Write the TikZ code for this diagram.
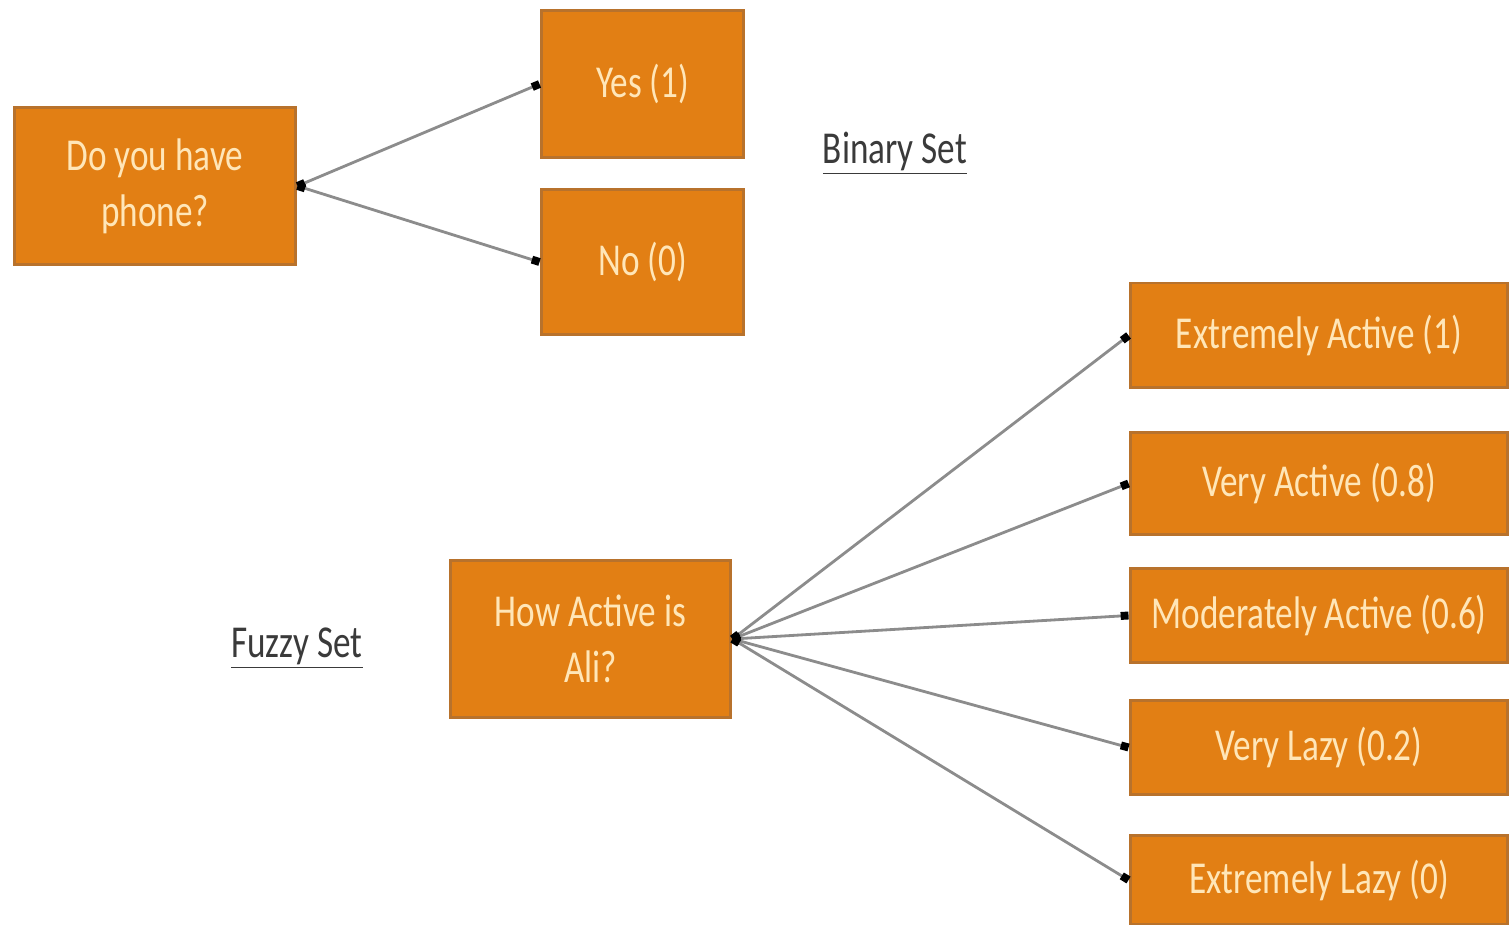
\documentclass[tikz,border=0pt]{standalone}
\usepackage{fontspec}
\setmainfont[FakeStretch=0.77]{Carlito}
\usetikzlibrary{arrows.meta}
\definecolor{boxfill}{HTML}{E27F14}
\definecolor{boxedge}{HTML}{B8722C}
\definecolor{boxtext}{HTML}{FFE6B8}
\definecolor{linkgray}{HTML}{8C8C8C}
\definecolor{labelgray}{HTML}{3A3A3A}
\tikzset{
    choice/.style={draw=boxedge, line width=1.7pt, fill=boxfill, text=boxtext,
            align=center, inner sep=0pt, font=\fontsize{26}{32}\selectfont},
    link/.style={draw=linkgray, line width=1.6pt,
            {Square[black,length=4.5pt,width=4.5pt]}-{Square[black,length=4.5pt,width=4.5pt]}},
    setlabel/.style={text=labelgray, font=\fontsize{26}{32}\selectfont}
}
\begin{document}
\begin{tikzpicture}[x=0.02cm, y=-0.02cm]
    \useasboundingbox (0,0) rectangle (1509,925);
    % Binary question
    \node[choice, minimum width=5.64cm, minimum height=3.16cm] (phone) at (155,186) {Do you have\\phone?};
    \node[choice, minimum width=4.06cm, minimum height=2.94cm] (yes) at (642.5,84) {Yes (1)};
    \node[choice, minimum width=4.06cm, minimum height=2.90cm] (no) at (642.5,262) {No (0)};
    \node[setlabel] (binary) at (895,153) {\underline{Binary Set}};
    \draw[link] (phone.east) -- (yes.west);
    \draw[link] (phone.east) -- (no.west);

    % Fuzzy question
    \node[choice, minimum width=5.62cm, minimum height=3.16cm] (ali) at (590.5,639) {How Active is\\Ali?};
    \node[setlabel] (fuzzy) at (297,648) {\underline{Fuzzy Set}};
    \foreach \name/\y/\h/\txt in {xactive/335.5/2.10/{Extremely Active (1)},
            vactive/483.5/2.06/{Very Active (0.8)},
            mactive/615.5/1.90/{Moderately Active (0.6)},
            vlazy/747.5/1.90/{Very Lazy (0.2)},
            xlazy/880/1.80/{Extremely Lazy (0)}} {
            \node[choice, minimum width=7.56cm, minimum height=\h cm] (\name) at (1319,\y) {\txt};
            \draw[link] (ali.east) -- (\name.west);
        }
\end{tikzpicture}
\end{document}
